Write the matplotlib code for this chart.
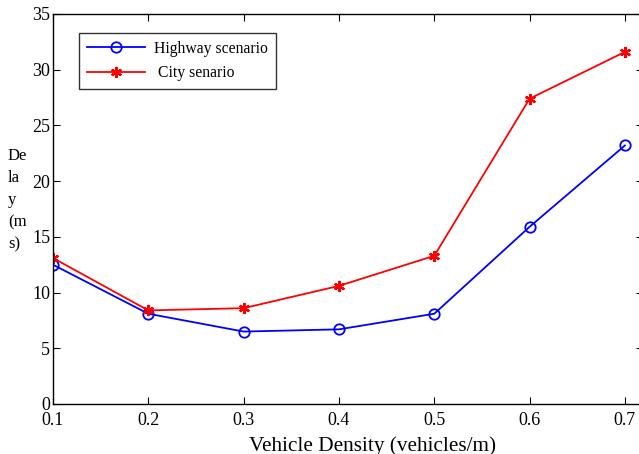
import matplotlib.pyplot as plt

plt.rcParams['font.family'] = ['Liberation Serif', 'DejaVu Serif']

density = [0.1, 0.2, 0.3, 0.4, 0.5, 0.6, 0.7]
highway_delay = [12.5, 8.1, 6.5, 6.7, 8.1, 15.9, 23.2]
city_delay = [13.1, 8.4, 8.6, 10.6, 13.3, 27.4, 31.6]
x_ticks = [0.1, 0.2, 0.3, 0.4, 0.5, 0.6, 0.7]
y_ticks = [0, 5, 10, 15, 20, 25, 30, 35]

fig = plt.figure(figsize=(6.39, 4.54), dpi=100)
ax = fig.add_axes([53 / 639, 1 - 404 / 454, 590 / 639, 390 / 454])

ax.plot(density, highway_delay, color='blue', lw=1.3, marker='o', ms=7.5,
        mfc='none', mec='blue', mew=1.3, label='Highway scenario')
ax.plot(density, city_delay, color='red', lw=1.3, marker=(6, 2, 0), ms=8,
        mfc='red', mec='red', mew=1.6, label=' City senario')

ax.set_xlim(0.1, 0.7 + 18 / 94.8 * 0.1)
ax.set_ylim(0, 35)
ax.set_xticks(x_ticks)
ax.set_xticklabels(['0.1', '0.2', '0.3', '0.4', '0.5', '0.6', '0.7'])
ax.set_yticks(y_ticks)
ax.tick_params(direction='in', top=True, right=True, labelsize=13, length=5, width=0.8)
ax.tick_params(axis='y', pad=2)
ax.tick_params(axis='x', pad=6)
for s in ax.spines.values():
    s.set_linewidth(1.0)

ax.set_xlabel('Vehicle Density (vehicles/m)', fontsize=15.3)
ax.xaxis.set_label_coords((371 - 53) / 587, -(436 - 404) / 390)
fig.text(8 / 639, 1 - 200 / 454, 'De\nla\ny\n(m\ns)', fontsize=12,
         ha='left', va='center', linespacing=1.5)

leg = ax.legend(loc='upper left', bbox_to_anchor=(26 / 590, 1 - 19 / 390),
                borderaxespad=0, fontsize=11.3, handlelength=3.7, handletextpad=0.6,
                frameon=True, fancybox=False, edgecolor='black',
                borderpad=0.5, labelspacing=0.52)
leg.get_frame().set_linewidth(1.0)

fig.savefig('out.png', dpi=100)
